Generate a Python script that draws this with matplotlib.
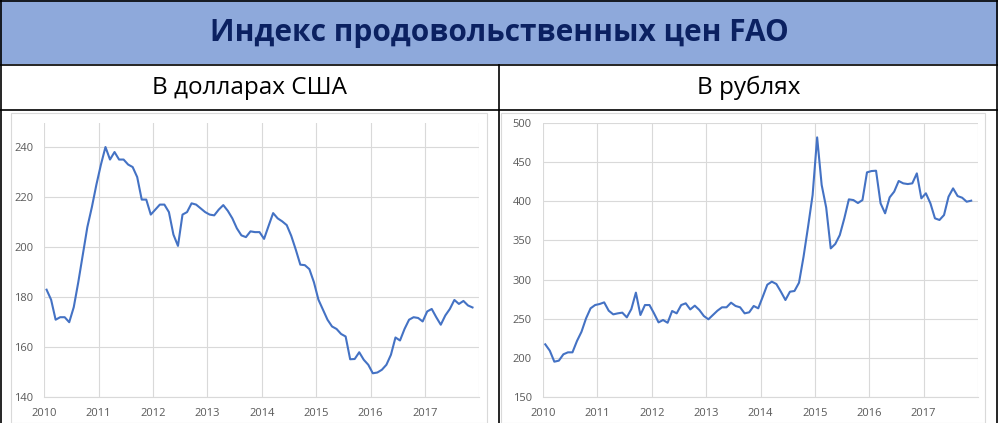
import matplotlib
matplotlib.use("Agg")
import matplotlib.pyplot as plt
from matplotlib.patches import Rectangle
from matplotlib.lines import Line2D
import numpy as np

plt.rcParams['font.family'] = ['Open Sans', 'DejaVu Sans']

title = "Индекс продовольственных цен FAO"
sub_left = "В долларах США"
sub_right = "В рублях"

years = [2010, 2011, 2012, 2013, 2014, 2015, 2016, 2017]

# monthly values, Jan 2010 .. Nov 2017
usd = [183, 179, 171, 172, 172, 170, 176, 186, 197, 208, 216, 225,
       233, 240, 235, 238, 235, 235, 233, 232, 228, 219, 219, 213,
       215, 217, 217, 214, 205, 200.5, 213, 214, 217.5, 217, 215.5, 214,
       213, 212.7, 215, 216.8, 214.5, 211.5, 207.5, 204.7, 204, 206.3, 206, 206,
       203.3, 208.5, 213.6, 211.5, 210.3, 208.8, 204.5, 199, 193, 192.8, 191.2, 186,
       179, 175, 171, 168.3, 167.3, 165.3, 164.3, 155.2, 155.3, 158, 155, 153,
       149.6, 149.9, 151, 153, 157, 163.9, 162.7, 167.3, 171, 172, 171.7, 170.3,
       174.3, 175.3, 172, 169, 172.7, 175.3, 178.9, 177.3, 178.5, 176.7, 175.9]

rub = [217.5, 209.4, 195.4, 196.7, 204.8, 207.3, 207.3, 221.8, 233.6, 250.6, 263.4, 267.6,
       268.9, 271, 260.4, 255.7, 257, 257.9, 251.9, 262.5, 283.4, 254.9, 267.6, 267.6,
       257, 245.5, 248.5, 245, 260, 257, 267.6, 269.8, 262, 266.8, 261.3, 253.6,
       249.4, 254.9, 260.4, 264.7, 264.7, 270.6, 266.4, 264.7, 257, 258.3, 266.4, 263.4,
       278.2, 293.5, 297.4, 294.4, 284.6, 274, 284.6, 285.5, 296.1, 329.2, 367.5, 407.8,
       481.3, 420.6, 391.7, 339.8, 345.4, 356.8, 378.1, 402.3, 401.4, 397.6, 401.4, 436.7,
       438.4, 438.8, 397.2, 384.5, 404.8, 412.1, 425.7, 422.7, 421.8, 422.7, 435.4, 403.6,
       410, 397.2, 378.1, 376, 382.3, 405.7, 416.3, 406.5, 404.4, 399.3, 400.6]

months = 2010 + (np.arange(len(usd)) + 0.5) / 12.0

W, H = 998, 423
fig = plt.figure(figsize=(W / 100, H / 100), dpi=100)

def fx(px):
    return px / W

def fy(py):
    return 1 - py / H

# header band
fig.add_artist(Rectangle((0, fy(64)), 1, fy(0) - fy(64), transform=fig.transFigure,
                         facecolor='#8EA9DB', edgecolor='none'))
fig.text(0.5, fy(33), title, ha='center', va='center', fontsize=21.5,
         fontweight='bold', color='#0B2161')
fig.text(fx(250), fy(88), sub_left, ha='center', va='center', fontsize=17.5, color='black')
fig.text(fx(749), fy(88), sub_right, ha='center', va='center', fontsize=17.5, color='black')

# chart frames
for x0, x1 in [(11, 487), (501, 985)]:
    fig.add_artist(Rectangle((fx(x0), fy(423)), fx(x1) - fx(x0), fy(113) - fy(423),
                             transform=fig.transFigure, facecolor='none',
                             edgecolor='#D9D9D9', linewidth=0.8))

# table lines
for y in [1, 64.5, 110.5]:
    fig.add_artist(Line2D([0, 1], [fy(y), fy(y)], transform=fig.transFigure,
                          color='black', linewidth=1.2))
fig.add_artist(Line2D([fx(498.5), fx(498.5)], [0, fy(64.5)], transform=fig.transFigure,
                      color='black', linewidth=1.2))
for x in [0.6, 997.4]:
    fig.add_artist(Line2D([fx(x), fx(x)], [0, 1], transform=fig.transFigure,
                          color='black', linewidth=1.2))

def style(ax, ylim, yticks):
    ax.set_xlim(2010, 2018)
    ax.set_ylim(*ylim)
    ax.set_xticks(range(2010, 2019))
    ax.set_xticklabels([str(y) for y in years] + [''])
    ax.set_yticks(yticks)
    ax.grid(True, color='#D9D9D9', linewidth=0.8)
    ax.set_axisbelow(True)
    for s in ['top', 'right', 'left']:
        ax.spines[s].set_visible(False)
    ax.spines['bottom'].set_color('#D9D9D9')
    ax.tick_params(length=0, labelsize=8, labelcolor='#595959')
    ax.tick_params(axis='y', pad=8)
    ax.tick_params(axis='x', pad=7.5)

ax1 = fig.add_axes([fx(44.3), fy(397.3), fx(479.3) - fx(44.3), fy(123) - fy(397.3)])
ax1.plot(months, usd, color='#4472C4', linewidth=1.5)
style(ax1, (140, 249.6), [140, 160, 180, 200, 220, 240])

ax2 = fig.add_axes([fx(543), fy(397.3), fx(978) - fx(543), fy(122.7) - fy(397.3)])
ax2.plot(months, rub, color='#4472C4', linewidth=1.5)
style(ax2, (150, 500), [150, 200, 250, 300, 350, 400, 450, 500])

fig.savefig('out.png', dpi=100)
